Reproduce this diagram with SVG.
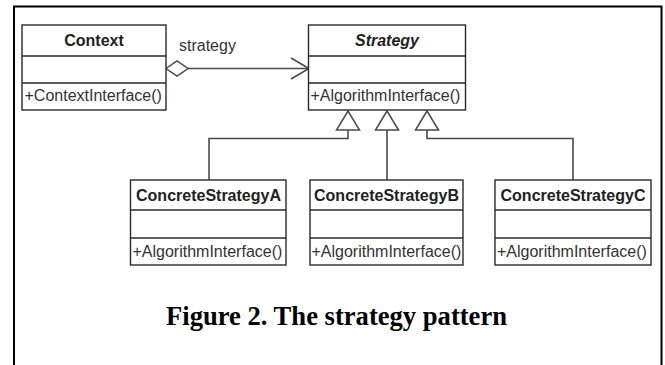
<svg xmlns="http://www.w3.org/2000/svg" width="665" height="365" viewBox="0 0 665 365">
<style>
.box{fill:#fff;stroke:#2a2a2a;stroke-width:1.4}
.div{stroke:#2a2a2a;stroke-width:1.4}
.hdr{font-family:"Liberation Sans",Arial,sans-serif;font-size:16px;font-weight:bold;fill:#222;text-anchor:middle}
.op{font-family:"Liberation Sans",Arial,sans-serif;font-size:16px;fill:#333}
.ln{fill:none;stroke:#4a4a4a;stroke-width:1.6}
.tri{fill:#fff;stroke:#4a4a4a;stroke-width:1.5}
.cap{font-family:"Liberation Serif","Times New Roman",serif;font-size:26.6px;font-weight:bold;fill:#000;text-anchor:middle}
</style>
<rect width="665" height="365" fill="#fff"/>
<path d="M14,367 V6.5 H661.5 V367" fill="none" stroke="#000" stroke-width="2"/>
<g id="connectors">
  <path class="ln" d="M188,68.5 H309"/>
  <path class="ln" d="M291,58 L309,68.5 L291,79"/>
  <polygon class="tri" points="166,68.5 177,61 188,68.5 177,76"/>
  <path class="ln" d="M348,130 V138.5 H209 V180"/>
  <path class="ln" d="M387,130 V180"/>
  <path class="ln" d="M427,130 V138.5 H573 V180"/>
  <polygon class="tri" points="348,111 336.5,130 359.5,130"/>
  <polygon class="tri" points="387,111 375.5,130 398.5,130"/>
  <polygon class="tri" points="427,111 415.5,130 438.5,130"/>
  <text class="op" x="179" y="51">strategy</text>
</g>
<g id="Context">
  <rect class="box" x="22" y="25" width="144" height="85"/>
  <line class="div" x1="22" y1="56" x2="166" y2="56"/>
  <line class="div" x1="22" y1="83" x2="166" y2="83"/>
  <text class="hdr" x="94" y="46">Context</text>
  <text class="op" x="24.5" y="101">+ContextInterface()</text>
</g>
<g id="Strategy">
  <rect class="box" x="308.5" y="25" width="157" height="85"/>
  <line class="div" x1="308.5" y1="56" x2="465.5" y2="56"/>
  <line class="div" x1="308.5" y1="83" x2="465.5" y2="83"/>
  <text class="hdr" x="387" y="46" font-style="italic">Strategy</text>
  <text class="op" x="310.5" y="101">+AlgorithmInterface()</text>
</g>
<g id="ConcreteStrategyA">
  <rect class="box" x="130.5" y="180" width="155.5" height="85"/>
  <line class="div" x1="130.5" y1="210" x2="286" y2="210"/>
  <line class="div" x1="130.5" y1="238" x2="286" y2="238"/>
  <text class="hdr" x="208.5" y="201">ConcreteStrategyA</text>
  <text class="op" x="132.5" y="257">+AlgorithmInterface()</text>
</g>
<g id="ConcreteStrategyB">
  <rect class="box" x="310" y="180" width="153" height="85"/>
  <line class="div" x1="310" y1="210" x2="463" y2="210"/>
  <line class="div" x1="310" y1="238" x2="463" y2="238"/>
  <text class="hdr" x="386.5" y="201">ConcreteStrategyB</text>
  <text class="op" x="311.5" y="257">+AlgorithmInterface()</text>
</g>
<g id="ConcreteStrategyC">
  <rect class="box" x="495" y="180" width="156" height="85"/>
  <line class="div" x1="495" y1="210" x2="651" y2="210"/>
  <line class="div" x1="495" y1="238" x2="651" y2="238"/>
  <text class="hdr" x="573" y="201">ConcreteStrategyC</text>
  <text class="op" x="497" y="257">+AlgorithmInterface()</text>
</g>
<text class="cap" x="336.5" y="325">Figure 2. The strategy pattern</text>
</svg>
